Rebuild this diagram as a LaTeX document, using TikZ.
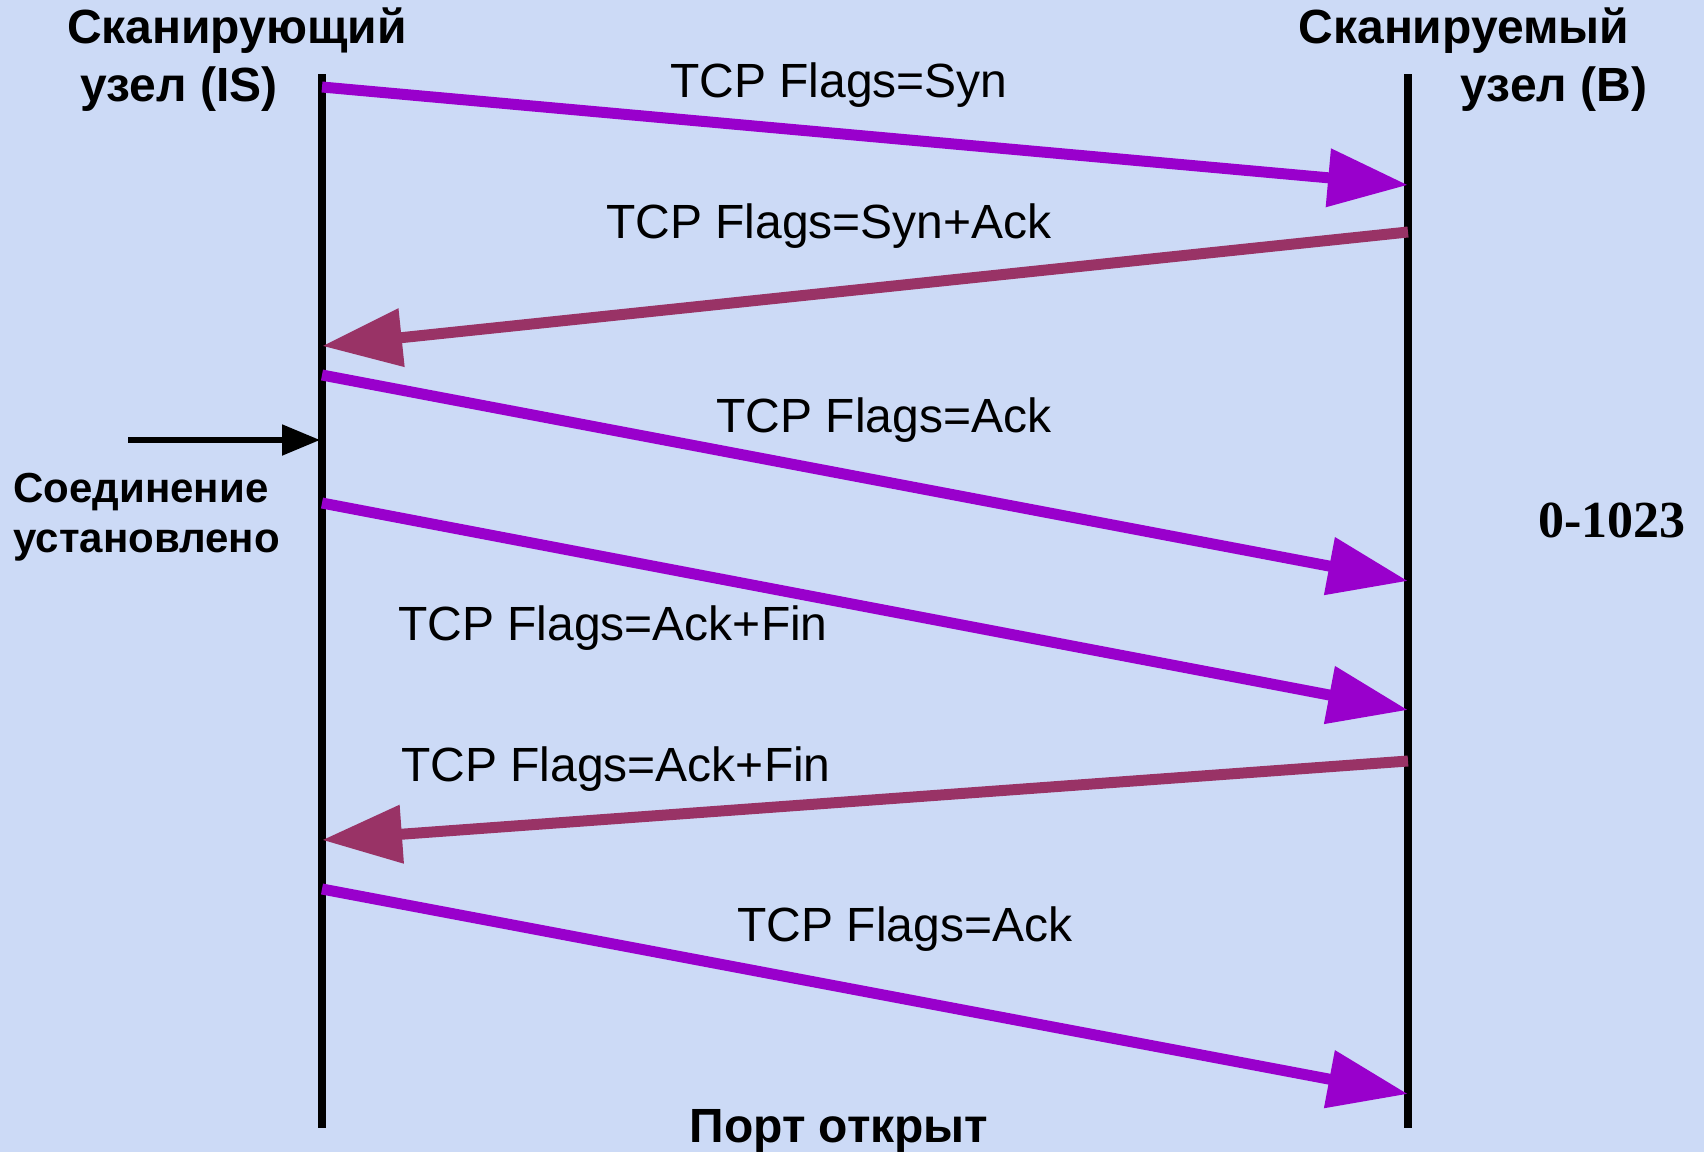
\documentclass[tikz,border=0pt]{standalone}
\usepackage{fontspec}
\setmainfont{Liberation Sans}
\newfontfamily\portfont{Liberation Serif}
\usetikzlibrary{arrows.meta}
\definecolor{bgblue}{RGB}{204,218,246}
\definecolor{synviolet}{RGB}{153,0,204}
\definecolor{ackmaroon}{RGB}{153,51,102}

\begin{document}
\begin{tikzpicture}
		[x=0.5pt, y=-0.5pt,
		lifesty/.style={line width=3.8pt},
		fwdsty/.style={draw=synviolet, line width=5.5pt, -{Triangle[length=40pt,width=28pt]}},
		backsty/.style={draw=ackmaroon, line width=5.5pt, -{Triangle[length=40pt,width=28pt]}},
		flagsty/.style={font=\fontsize{24}{28}\selectfont, inner sep=0pt},
		hoststy/.style={font=\fontsize{24}{28}\selectfont\bfseries, inner sep=0pt}]
		\fill[bgblue] (0,0) rectangle (1704,1152);
		\useasboundingbox (0,0) rectangle (1704,1152);
		
		\coordinate (is top) at (322,74);
		\coordinate (is bottom) at (322,1128);
		\coordinate (b top) at (1408,74);
		\coordinate (b bottom) at (1408,1128);
		\draw[lifesty] (is top) -- (is bottom);
		\draw[lifesty] (b top) -- (b bottom);
		
		\node (host is 1) at (237,31) [hoststy] {Сканирующий};
		\node (host is 2) at (179,89) [hoststy] {узел (IS)};
		\node (host b 1) at (1464,31) [hoststy] {Сканируемый};
		\node (host b 2) at (1554,89) [hoststy] {узел (B)};
		
		\coordinate (is 1) at (322,87);
		\coordinate (b 1) at (1408,185);
		\coordinate (b 2) at (1408,232);
		\coordinate (is 2) at (322,346);
		\coordinate (is 3) at (322,375);
		\coordinate (b 3) at (1408,581);
		\coordinate (is 4) at (322,503);
		\coordinate (b 4) at (1408,710);
		\coordinate (b 5) at (1408,761);
		\coordinate (is 5) at (322,840);
		\coordinate (is 6) at (322,889);
		\coordinate (b 6) at (1408,1094);
		
		\draw[fwdsty] (is 1) -- (b 1);
		\draw[backsty] (b 2) -- (is 2);
		\draw[fwdsty] (is 3) -- (b 3);
		\draw[fwdsty] (is 4) -- (b 4);
		\draw[backsty] (b 5) -- (is 5);
		\draw[fwdsty] (is 6) -- (b 6);
		
		\node (flag 1) at (839,85) [flagsty] {TCP Flags=Syn};
		\node (flag 2) at (829,226) [flagsty] {TCP Flags=Syn+Ack};
		\node (flag 3) at (884,420) [flagsty] {TCP Flags=Ack};
		\node (flag 4) at (613,628) [flagsty] {TCP Flags=Ack+Fin};
		\node (flag 5) at (616,769) [flagsty] {TCP Flags=Ack+Fin};
		\node (flag 6) at (905,929) [flagsty] {TCP Flags=Ack};
		
		\coordinate (est start) at (128,440);
		\coordinate (est end) at (320,440);
		\draw[line width=2.6pt, -{Triangle[length=19pt,width=15pt]}] (est start) -- (est end);
		\node (est text) at (13,517) [anchor=west, inner sep=0pt, align=left,
			font=\fontsize{21}{25}\selectfont\bfseries] {Соединение\\установлено};
		
		\node (ports) at (1612,520) [inner sep=0pt, font=\portfont\fontsize{26}{30}\selectfont\bfseries] {0-1023};
		\node (open) at (839,1131) [hoststy] {Порт открыт};
	\end{tikzpicture}
\end{document}
